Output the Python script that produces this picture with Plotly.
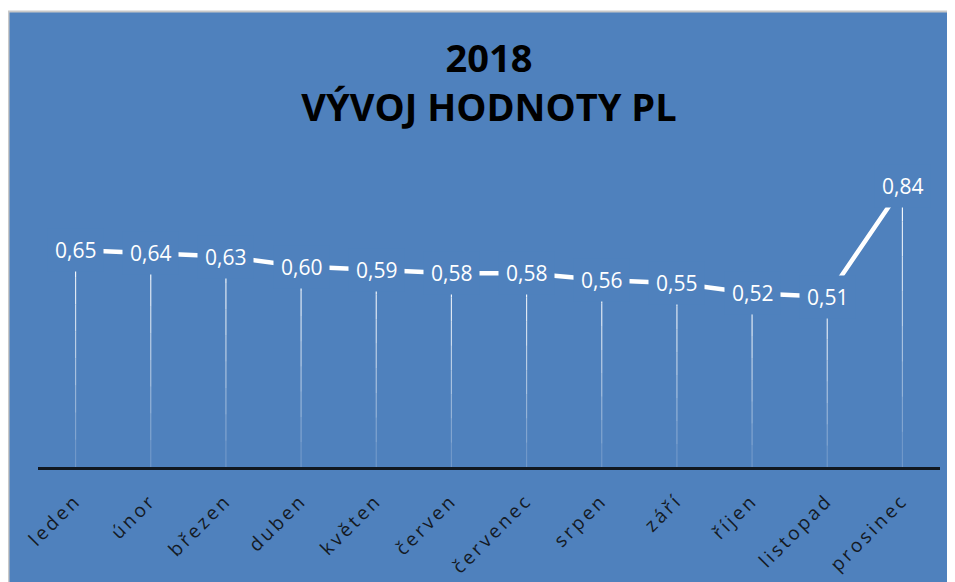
import plotly.graph_objects as go

# ---- data ----
months = ["leden", "únor", "březen", "duben", "květen", "červen",
          "červenec", "srpen", "září", "říjen", "listopad", "prosinec"]
values = [0.65, 0.64, 0.63, 0.60, 0.59, 0.58, 0.58, 0.56, 0.55, 0.52, 0.51, 0.84]
title_lines = ["2018", "VÝVOJ HODNOTY PL"]

BLUE = "#4F81BD"
# page body has an 8px margin, so the figure is a bit smaller than the window
W, H = 947, 574
ML, MR, MT, MB = 30, 15, 125, 115
PW, PH = W - ML - MR, H - MT - MB


def px_x(px):
    return (px - ML) / PW


def px_y(py):
    return (H - MB - py) / PH


fig = go.Figure()

# drop lines, fading toward the axis
n_bands = 8
for k in range(n_bands):
    xs, ys = [], []
    for m, v in zip(months, values):
        xs += [m, m, None]
        ys += [v * k / n_bands, v * (k + 1) / n_bands, None]
    alpha = 0.08 + 0.85 * (k + 1) / n_bands
    fig.add_trace(go.Scatter(
        x=xs, y=ys, mode="lines",
        line=dict(color=f"rgba(255,255,255,{alpha:.2f})", width=1.2),
        hoverinfo="skip", showlegend=False))

# main line
fig.add_trace(go.Scatter(
    x=months, y=values, mode="lines",
    line=dict(color="white", width=4.5),
    showlegend=False))

# data labels with blue boxes (hide the line under them)
for m, v in zip(months, values):
    fig.add_annotation(
        x=m, y=v, xref="x", yref="y",
        text=f"{v:.2f}".replace(".", ","),
        showarrow=False,
        font=dict(family="Open Sans", size=21, color="white"),
        bgcolor=BLUE, borderpad=7,
        xanchor="center", yanchor="middle")

# thin white strip + grey frame edge at the top / left
fig.add_shape(type="rect", xref="paper", yref="paper",
              x0=px_x(-5), x1=px_x(W + 5), y0=px_y(3), y1=px_y(-5),
              fillcolor="white", line=dict(width=0), layer="below")
fig.add_shape(type="line", xref="paper", yref="paper",
              x0=px_x(0), x1=px_x(W + 5), y0=px_y(3.5), y1=px_y(3.5),
              line=dict(color="#c9c9c9", width=2))
fig.add_shape(type="line", xref="paper", yref="paper",
              x0=px_x(0.5), x1=px_x(0.5), y0=px_y(3), y1=px_y(H + 5),
              line=dict(color="#c9c9c9", width=2))

tick_text = [f'<span style="letter-spacing:3px">{m}</span>' for m in months]

fig.update_layout(
    width=W, height=H,
    margin=dict(l=ML, r=MR, t=MT, b=MB, autoexpand=False),
    paper_bgcolor=BLUE, plot_bgcolor=BLUE,
    title=dict(
        text="<b>" + "<br>".join(title_lines) + "</b>",
        font=dict(family="Open Sans", size=38, color="black"),
        x=0.5, xref="paper", xanchor="center",
        y=1 - 64 / H, yref="container", yanchor="top"),
    xaxis=dict(
        type="category", range=[-0.5, len(months) - 0.5],
        automargin=False,
        tickmode="array", tickvals=months, ticktext=tick_text,
        showline=True, linecolor="#111820", linewidth=2.5,
        showgrid=False, zeroline=False,
        tickangle=-45, ticks="", ticklabelstandoff=12,
        tickfont=dict(family="Open Sans", size=19, color="#141a24")),
    yaxis=dict(range=[0, 1.0], visible=False, showgrid=False,
               zeroline=False, automargin=False),
)

fig.write_html("out.html")
